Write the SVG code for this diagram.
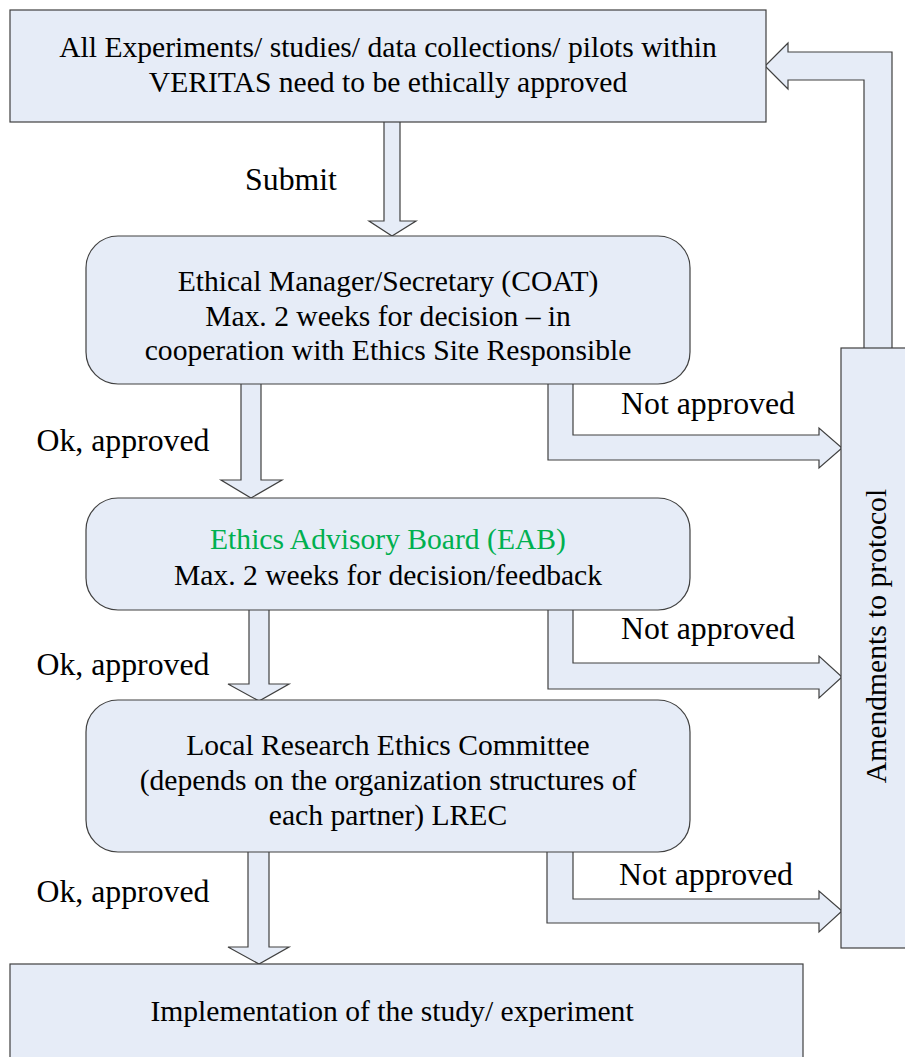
<svg xmlns="http://www.w3.org/2000/svg" width="905" height="1057" viewBox="0 0 905 1057">
<style>
.box{fill:#E6ECF7;stroke:#404040;stroke-width:1.2}
.arr{fill:#E6ECF7;stroke:#404040;stroke-width:1.2;stroke-linejoin:miter}
text{font-family:'Liberation Serif','Times New Roman',serif;font-size:29.6px;fill:#000}
.c{text-anchor:middle}
.lbl{font-size:31.8px}
.g{fill:#00B050}
</style>
<rect width="905" height="1057" fill="#fff"/>
<g id="connectors">
<path class="arr" d="M384,122 V221 H369 L392,236 L416,221 H400 V122"/>
<path class="arr" d="M241,384 V480 H221 L251,498 L282,480 H261 V384"/>
<path class="arr" d="M249,610 V684 H228 L259,701 L289,684 H269 V610"/>
<path class="arr" d="M248,852 V947 H228 L259,964 L289,947 H269 V852"/>
<path class="arr" d="M548,384 V460 H819 V468 L842,448 L819,428 V435 H573 V384"/>
<path class="arr" d="M548,610 V689 H819 V698 L842,677 L819,656 V663 H573 V610"/>
<path class="arr" d="M547,852 V923 H819 V932 L842,911 L819,891 V899 H573 V852"/>
<path class="arr" d="M864,348 V80 H788 V89 L765,66 L788,43 V52 H892 V348"/>
<text x="291" y="190" class="c lbl">Submit</text>
<text x="123" y="451" class="c lbl">Ok, approved</text>
<text x="123" y="675" class="c lbl">Ok, approved</text>
<text x="123" y="902" class="c lbl">Ok, approved</text>
<text x="708" y="414" class="c lbl">Not approved</text>
<text x="708" y="639" class="c lbl">Not approved</text>
<text x="706" y="885" class="c lbl">Not approved</text>
</g>
<g id="start">
<rect class="box" x="10" y="10" width="756" height="112"/>
<text x="388" y="57" class="c">All Experiments/ studies/ data collections/ pilots within</text>
<text x="388" y="92" class="c">VERITAS need to be ethically approved</text>
</g>
<g id="coat">
<rect class="box" x="86" y="236" width="604" height="148" rx="32"/>
<text x="388" y="291" class="c">Ethical Manager/Secretary (COAT)</text>
<text x="388" y="326" class="c">Max. 2 weeks for decision – in</text>
<text x="388" y="360" class="c">cooperation with Ethics Site Responsible</text>
</g>
<g id="eab">
<rect class="box" x="86" y="498" width="604" height="112" rx="32"/>
<text x="388" y="549" class="c g">Ethics Advisory Board (EAB)</text>
<text x="388" y="585" class="c">Max. 2 weeks for decision/feedback</text>
</g>
<g id="lrec">
<rect class="box" x="86" y="700" width="604" height="152" rx="32"/>
<text x="388" y="755" class="c">Local Research Ethics Committee</text>
<text x="388" y="790" class="c">(depends on the organization structures of</text>
<text x="388" y="825" class="c">each partner) LREC</text>
</g>
<g id="amendments">
<rect class="box" x="841" y="348" width="70" height="600"/>
<text class="c" transform="translate(886,636) rotate(-90)">Amendments to protocol</text>
</g>
<g id="implementation">
<rect class="box" x="10" y="964" width="793" height="100"/>
<text x="392" y="1021" class="c">Implementation of the study/ experiment</text>
</g>
</svg>
